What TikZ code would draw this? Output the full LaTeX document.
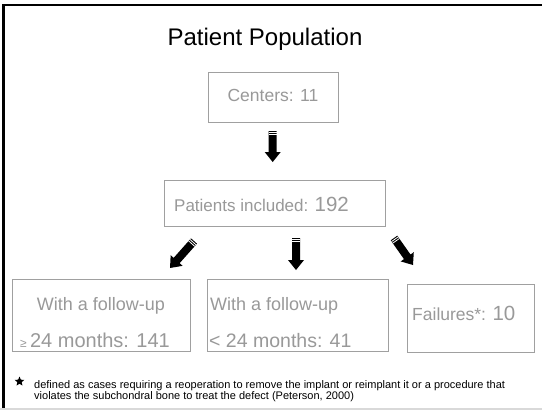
\documentclass[tikz,border=0pt]{standalone}
\usepackage{fontspec}
\setmainfont{Liberation Sans}
\usetikzlibrary{shapes.geometric}
\definecolor{txtgray}{HTML}{999999}
\definecolor{boxgray}{HTML}{A0A0A0}
\definecolor{linegray}{HTML}{D9D9D9}
\newcommand{\fsz}[1]{\fontsize{#1}{#1}\selectfont}
\newcommand{\blockarr}[2]{%
  \pgfmathanglebetweenpoints{\pgfpointanchor{#1}{center}}{\pgfpointanchor{#2}{center}}%
  \edef\baang{\pgfmathresult}%
  \pgfpointdiff{\pgfpointanchor{#1}{center}}{\pgfpointanchor{#2}{center}}%
  \pgfgetlastxy{\badx}{\bady}%
  \pgfmathsetmacro{\balen}{veclen(\badx,\bady)}%
  \begin{scope}[shift={(#1)}, rotate=\baang]
    \fill[black] (0,-4) -- (\balen-10,-4) -- (\balen-10,-8) -- (\balen,0) -- (\balen-10,8) -- (\balen-10,4) -- (0,4) -- cycle;
    \draw[white, line width=0.8pt] (1.5,-4) -- (1.5,4) (3.5,-4) -- (3.5,4);
  \end{scope}}
\begin{document}
\begin{tikzpicture}[x=1pt,y=-1pt,
  box/.style={draw=boxgray, line width=0.9pt, inner sep=0pt},
  lbl/.style={text=txtgray, inner sep=0pt},
  note/.style={text=black, inner sep=0pt, anchor=base west, font=\fsz{11}}]
\useasboundingbox (0,0) rectangle (542,410);
\fill[white] (0,0) rectangle (542,410);
% frame
\draw[line width=2.5pt] (3.3,410) -- (3.3,5) -- (542,5);
\draw[linegray, line width=1.5pt] (0,409.2) -- (542,409.2);
% title
\node[anchor=base, inner sep=0pt, font=\fsz{24}] (title) at (265,45) {Patient Population};
% boxes
\node[box, minimum width=130pt, minimum height=50pt] (centers) at (273,97) {};
\node[box, minimum width=221pt, minimum height=46pt] (patients) at (274.5,203) {};
\node[box, minimum width=178pt, minimum height=72pt] (fu1) at (101,315) {};
\node[box, minimum width=181pt, minimum height=72pt] (fu2) at (297.5,315) {};
\node[box, minimum width=127pt, minimum height=68pt] (fail) at (470.5,318) {};
% texts
\node[lbl, anchor=base] (centersT) at (273,101.5) {\fsz{17.5}Centers: 11};
\node[lbl, anchor=base west] (patientsT) at (174,211.5) {{\fsz{17}Patients included: }{\fsz{20.5}192}};
\node[lbl, anchor=base] (fu1a) at (101,310) {\fsz{18}With a follow-up};
\node[lbl, anchor=base] (fu1b) at (95,347) {{\fsz{12}≥ }{\fsz{20}24 months: 141}};
\node[lbl, anchor=base west] (fu2a) at (210,310) {\fsz{18}With a follow-up};
\node[lbl, anchor=base west] (fu2b) at (209,347) {\fsz{19.5}< 24 months: 41};
\node[lbl, anchor=base west] (failT) at (412,320) {{\fsz{17.5}Failures*: }{\fsz{20.5}10}};
% arrows
\coordinate (a1s) at (272.7,131); \coordinate (a1e) at (272.7,162);
\coordinate (a2s) at (194,241); \coordinate (a2e) at (170,268);
\coordinate (a3s) at (296,238); \coordinate (a3e) at (296,270);
\coordinate (a4s) at (394,238); \coordinate (a4e) at (413,265);
\blockarr{a1s}{a1e}
\blockarr{a2s}{a2e}
\blockarr{a3s}{a3e}
\blockarr{a4s}{a4e}
% footnote
\node[star, star points=5, star point ratio=2.2, fill=black, inner sep=0pt, minimum size=10pt] (star) at (19.5,381.5) {};
\node[note] (note1) at (34,388) {defined as cases requiring a reoperation to remove the implant or reimplant it or a procedure that};
\node[note] (note2) at (34,399.5) {violates the subchondral bone to treat the defect (Peterson, 2000)};
\end{tikzpicture}
\end{document}
